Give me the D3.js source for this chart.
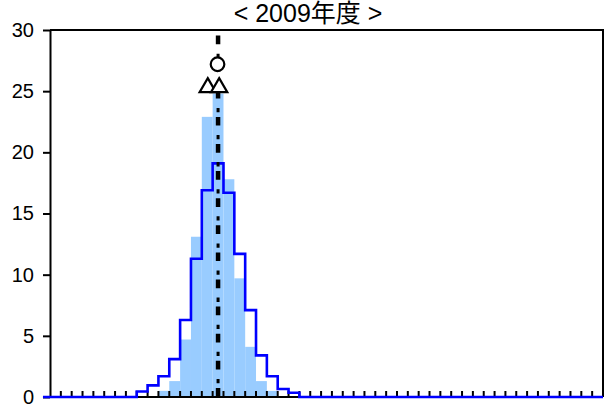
<!DOCTYPE html>
<html>
<head>
<meta charset="utf-8">
<script src="https://cdn.jsdelivr.net/npm/d3@7"></script>
<style>
  body { margin: 0; background: #fff; }
  svg { display: block; font-family: "Liberation Sans", Arial, "Noto Sans CJK JP", sans-serif; }
</style>
</head>
<body>
<svg id="chart"></svg>
<script>
//title
const title = "< 2009年度 >";

//shaded histogram (class index -> value)
const fillBins = [10, 11, 12, 13, 14, 15, 16, 17, 18, 19, 20];
const fillValues = [0.5, 1.3, 4.7, 13.1, 22.9, 24.8, 17.8, 9.7, 4.1, 1.3, 0.5];

//outlined histogram
const outlineBins = [8, 9, 10, 11, 12, 13, 14, 15, 16, 17, 18, 19, 20, 21, 22];
const outlineValues = [0.45, 0.95, 1.7, 3.1, 6.3, 11.3, 16.9, 19.1, 16.7, 11.7, 7.1, 3.4, 1.7, 0.65, 0.35];

//reference line and markers
const refLineX = 15.5;
const circleMarkers = [[15.45, 27.2]];
const triangleMarkers = [[14.55, 25.3], [15.6, 25.3]];

//axes
const yTicks = [0, 5, 10, 15, 20, 25, 30];
const xTicks = d3.range(1, 51);
const xDomain = [0, 51];
const yDomain = [0, 30];
const outlineFrom = -0.65;

const w = 605;
const h = 407;
const margin = { top: 30, right: 2, bottom: 10, left: 50 };

const svg = d3.select('#chart')
    .attr('width', w)
    .attr('height', h);

const xScale = d3.scaleLinear()
    .domain(xDomain)
    .range([margin.left, w - margin.right]);

const yScale = d3.scaleLinear()
    .domain(yDomain)
    .range([h - margin.bottom, margin.top]);

//shaded bars
svg.selectAll('rect.fill')
    .data(fillBins)
    .enter()
    .append('rect')
    .attr('class', 'fill')
    .attr('x', (d) => xScale(d))
    .attr('width', (d) => xScale(d + 1) - xScale(d))
    .attr('y', (d, i) => yScale(fillValues[i]))
    .attr('height', (d, i) => yScale(0) - yScale(fillValues[i]))
    .attr('fill', '#99ccff');

//frame: top and right border
svg.append('path')
    .attr('d', 'M' + xScale(xDomain[0]) + ',' + yScale(yDomain[1]) +
        'H' + xScale(xDomain[1]) + 'V' + yScale(0))
    .attr('fill', 'none')
    .attr('stroke', '#000')
    .attr('stroke-width', 2);

//baseline
svg.append('line')
    .attr('x1', xScale(xDomain[0]))
    .attr('x2', xScale(xDomain[1]))
    .attr('y1', yScale(0))
    .attr('y2', yScale(0))
    .attr('stroke', '#000')
    .attr('stroke-width', 2);

//x ticks pointing up
svg.selectAll('line.xtick')
    .data(xTicks)
    .enter()
    .append('line')
    .attr('class', 'xtick')
    .attr('x1', (d) => xScale(d))
    .attr('x2', (d) => xScale(d))
    .attr('y1', yScale(0))
    .attr('y2', yScale(0) - 6)
    .attr('stroke', '#000')
    .attr('stroke-width', 2);

//y axis
const yAxis = d3.axisLeft(yScale)
    .tickValues(yTicks)
    .tickSize(7)
    .tickSizeOuter(0)
    .tickPadding(9);

const yG = svg.append('g')
    .attr('transform', 'translate(' + margin.left + ',0)')
    .call(yAxis);
yG.select('.domain').attr('stroke-width', 2);
yG.selectAll('.tick line').attr('stroke-width', 2);
yG.selectAll('.tick text')
    .attr('font-size', 20)
    .attr('font-family', '"Liberation Sans", Arial, sans-serif')
    .attr('fill', '#000');

//outlined histogram as a step line
const outlinePoints = [[outlineFrom, 0]]
    .concat(outlineBins.map((b, i) => [b, outlineValues[i]]))
    .concat([[outlineBins[outlineBins.length - 1] + 1, 0], [xDomain[1], 0]]);

const stepLine = d3.line()
    .x((d) => xScale(d[0]))
    .y((d) => yScale(d[1]))
    .curve(d3.curveStepAfter);

svg.append('path')
    .datum(outlinePoints)
    .attr('d', stepLine)
    .attr('fill', 'none')
    .attr('stroke', '#0000ff')
    .attr('stroke-width', 2.6);

//dash-dot reference line (thick dashes + thin dots)
const refX = xScale(refLineX);
svg.append('line')
    .attr('x1', refX).attr('x2', refX)
    .attr('y1', yScale(yDomain[1])).attr('y2', yScale(0))
    .attr('stroke', '#000')
    .attr('stroke-width', 4.5)
    .attr('stroke-dasharray', '8.7 18.4')
    .attr('stroke-dashoffset', -5.6);
svg.append('line')
    .attr('x1', refX).attr('x2', refX)
    .attr('y1', yScale(yDomain[1])).attr('y2', yScale(0))
    .attr('stroke', '#000')
    .attr('stroke-width', 3)
    .attr('stroke-dasharray', '4.3 22.8')
    .attr('stroke-dashoffset', 3.4);

//markers
svg.selectAll('path.tri')
    .data(triangleMarkers)
    .enter()
    .append('path')
    .attr('class', 'tri')
    .attr('d', d3.symbol(d3.symbolTriangle, 115))
    .attr('transform', (d) => 'translate(' + xScale(d[0]) + ',' + yScale(d[1]) + ')')
    .attr('fill', '#fff')
    .attr('stroke', '#000')
    .attr('stroke-width', 2.2);

svg.selectAll('circle.mark')
    .data(circleMarkers)
    .enter()
    .append('circle')
    .attr('class', 'mark')
    .attr('cx', (d) => xScale(d[0]))
    .attr('cy', (d) => yScale(d[1]))
    .attr('r', 6.8)
    .attr('fill', '#fff')
    .attr('stroke', '#000')
    .attr('stroke-width', 2.2);

//title
svg.append('text')
    .attr('x', 308)
    .attr('y', 22)
    .attr('text-anchor', 'middle')
    .attr('font-size', 25)
    .attr('fill', '#000')
    .text(title);
</script>
</body>
</html>
